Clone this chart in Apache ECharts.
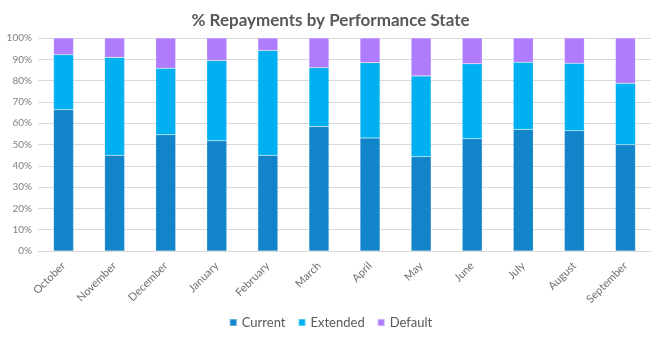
<!DOCTYPE html>
<html>
<head>
<meta charset="utf-8">
<script src="https://cdn.jsdelivr.net/npm/echarts@6/dist/echarts.min.js"></script>
<style>html,body{margin:0;padding:0;background:#fff}#c{width:661px;height:339px}</style>
</head>
<body>
<div id="c"></div>
<script>
var categories = ['October','November','December','January','February','March','April','May','June','July','August','September'];
var current  = [66.4, 44.9, 54.6, 51.8, 44.9, 58.4, 53.1, 44.3, 52.7, 57.1, 56.5, 49.9];
var extended = [25.8, 46.0, 31.2, 37.6, 49.2, 27.7, 35.3, 37.9, 35.2, 31.5, 31.6, 28.8];
var defaulted = [7.8, 9.1, 14.2, 10.6, 5.9, 13.9, 11.6, 17.8, 12.1, 11.4, 11.9, 21.3];
var yTicks = [0,10,20,30,40,50,60,70,80,90,100];

var chart = echarts.init(document.getElementById('c'), null, {renderer:'canvas'});
var font = 'Lato, "Open Sans", sans-serif';
function s(name, data, color){
  return {name:name, type:'bar', stack:'t', data:data, barWidth:20,
    itemStyle:{color:color, borderColor:'rgba(255,255,255,0.35)', borderWidth:0.5}};
}
chart.setOption({
  animation:false,
  title:{text:'% Repayments by Performance State', left:'center', top:7,
    textStyle:{fontFamily:font, fontSize:17, fontWeight:'bold', color:'#595959'}},
  grid:{left:38, right:10, top:38, bottom:88},
  legend:{bottom:5, left:'center', itemWidth:7, itemHeight:7, itemGap:12, icon:'rect',
    textStyle:{fontFamily:font, fontSize:13, color:'#595959'},
    data:['Current','Extended','Default']},
  xAxis:{type:'category', data:categories,
    axisLine:{lineStyle:{color:'#d9d9d9'}}, axisTick:{show:false},
    axisLabel:{rotate:45, interval:0, fontFamily:font, fontSize:11, color:'#707070', margin:13}},
  yAxis:{type:'value', min:0, max:100, interval:10,
    axisLabel:{formatter:function(v){return v+'%';}, fontFamily:font, fontSize:10, color:'#808080', margin:6},
    splitLine:{lineStyle:{color:'#d9d9d9'}}, axisLine:{show:false}, axisTick:{show:false}},
  series:[s('Current', current, '#1184CA'), s('Extended', extended, '#00B0F0'), s('Default', defaulted, '#B07CFE')]
});
</script>
</body>
</html>
